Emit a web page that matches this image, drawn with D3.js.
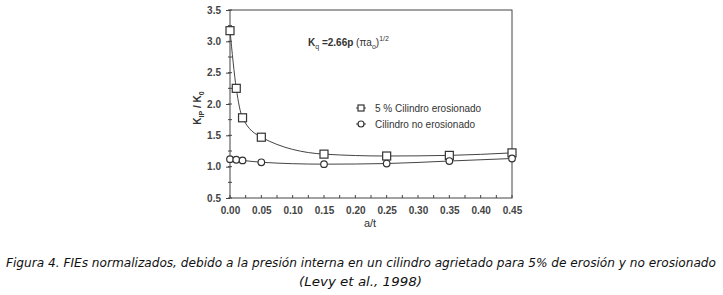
<!DOCTYPE html>
<html>
<head>
<meta charset="utf-8">
<script src="https://cdn.jsdelivr.net/npm/d3@7"></script>
<style>
body { margin: 0; background: #fff; }
svg { display: block; }
.axis text { font-family: "Liberation Sans", Arial, sans-serif; font-size: 10px; font-weight: bold; fill: #444; }
.axis path, .axis line { stroke: #444; }
</style>
</head>
<body>
<div id="root"></div>
<script>
var xValues = [0.00, 0.01, 0.02, 0.05, 0.15, 0.25, 0.35, 0.45];
var erosionado = [3.17, 2.25, 1.78, 1.47, 1.20, 1.17, 1.18, 1.22];
var noErosionado = [1.12, 1.11, 1.10, 1.07, 1.04, 1.05, 1.09, 1.13];
var xTicks = [0, 0.05, 0.10, 0.15, 0.20, 0.25, 0.30, 0.35, 0.40, 0.45];
var yTicks = [0.5, 1.0, 1.5, 2.0, 2.5, 3.0, 3.5];
var seriesNames = ["5 % Cilindro erosionado", "Cilindro no erosionado"];

var width = 723, height = 295;
var x = d3.scaleLinear().domain([0, 0.45]).range([230, 512]);
var y = d3.scaleLinear().domain([0.5, 3.5]).range([198, 10]);

var svg = d3.select("#root").append("svg")
    .attr("width", width)
    .attr("height", height);

// frame
svg.append("rect")
    .attr("x", x(0)).attr("y", y(3.5))
    .attr("width", x(0.45) - x(0)).attr("height", y(0.5) - y(3.5))
    .attr("fill", "none").attr("stroke", "#444");

// minor ticks
svg.append("g").selectAll("line")
    .data(d3.range(0, 0.451, 0.025))
    .enter().append("line")
    .attr("x1", function (d) { return x(d); })
    .attr("x2", function (d) { return x(d); })
    .attr("y1", y(0.5)).attr("y2", y(0.5) - 3)
    .attr("stroke", "#444");
svg.append("g").selectAll("line")
    .data(d3.range(0.5, 3.51, 0.25))
    .enter().append("line")
    .attr("x1", x(0) - 2).attr("x2", x(0) + 2)
    .attr("y1", function (d) { return y(d); })
    .attr("y2", function (d) { return y(d); })
    .attr("stroke", "#444");

svg.append("g")
    .attr("class", "axis")
    .attr("transform", "translate(0," + y(0.5) + ")")
    .call(d3.axisBottom(x).tickValues(xTicks).tickFormat(d3.format(".2f")).tickSize(0).tickPadding(9))
    .select(".domain").remove();

svg.append("g")
    .attr("class", "axis")
    .attr("transform", "translate(" + x(0) + ",0)")
    .call(d3.axisLeft(y).tickValues(yTicks).tickFormat(d3.format(".1f")).tickSize(4).tickPadding(5))
    .select(".domain").remove();

// axis titles
svg.append("text")
    .attr("x", 370).attr("y", 227)
    .attr("text-anchor", "middle")
    .style("font-family", "Liberation Sans, Arial, sans-serif")
    .style("font-size", "11px").style("fill", "#333")
    .text("a/t");

var yl = svg.append("text")
    .attr("transform", "translate(201,108) rotate(-90)")
    .attr("text-anchor", "middle")
    .style("font-family", "Liberation Sans, Arial, sans-serif")
    .style("font-size", "10px").style("font-weight", "bold").style("fill", "#333");
yl.append("tspan").text("K");
yl.append("tspan").attr("dy", 3).style("font-size", "7px").text("IP");
yl.append("tspan").attr("dy", -3).text(" / K");
yl.append("tspan").attr("dy", 3).style("font-size", "7px").text("0");

// formula annotation
var ann = svg.append("text")
    .attr("x", 308).attr("y", 46)
    .style("font-family", "Liberation Sans, Arial, sans-serif")
    .style("font-size", "10px").style("fill", "#333");
ann.append("tspan").style("font-weight", "bold").text("K");
ann.append("tspan").attr("dy", 3).style("font-size", "7px").text("q");
ann.append("tspan").attr("dy", -3).style("font-weight", "bold").text(" =2.66p ");
ann.append("tspan").text("(\u03c0a");
ann.append("tspan").attr("dy", 3).style("font-size", "7px").text("o");
ann.append("tspan").attr("dy", -3).text(")");
ann.append("tspan").attr("dy", -5).style("font-size", "7px").text("1/2");

var line = d3.line()
    .x(function (d) { return x(d[0]); })
    .y(function (d) { return y(d[1]); })
    .curve(d3.curveMonotoneX);

var s1 = xValues.map(function (v, i) { return [v, erosionado[i]]; });
var s2 = xValues.map(function (v, i) { return [v, noErosionado[i]]; });

svg.append("path").datum(s1).attr("d", line)
    .attr("fill", "none").attr("stroke", "#444").attr("stroke-width", 1);
svg.append("path").datum(s2).attr("d", line)
    .attr("fill", "none").attr("stroke", "#444").attr("stroke-width", 1);

svg.append("g").selectAll("rect")
    .data(s1).enter().append("rect")
    .attr("x", function (d) { return x(d[0]) - 4; })
    .attr("y", function (d) { return y(d[1]) - 4; })
    .attr("width", 8).attr("height", 8)
    .attr("fill", "#fff").attr("stroke", "#333").attr("stroke-width", 1.2);

svg.append("g").selectAll("circle")
    .data(s2).enter().append("circle")
    .attr("cx", function (d) { return x(d[0]); })
    .attr("cy", function (d) { return y(d[1]); })
    .attr("r", 3.3)
    .attr("fill", "#fff").attr("stroke", "#333").attr("stroke-width", 1.2);

// legend
var lg = svg.append("g")
    .style("font-family", "Liberation Sans, Arial, sans-serif")
    .style("font-size", "10px").style("fill", "#333");
lg.append("line").attr("x1", 356).attr("x2", 366).attr("y1", 108).attr("y2", 108).attr("stroke", "#444");
lg.append("rect").attr("x", 358).attr("y", 105).attr("width", 6).attr("height", 6)
    .attr("fill", "#fff").attr("stroke", "#333").attr("stroke-width", 1.2);
lg.append("text").attr("x", 375).attr("y", 112).text(seriesNames[0]);
lg.append("line").attr("x1", 356).attr("x2", 366).attr("y1", 124).attr("y2", 124).attr("stroke", "#444");
lg.append("circle").attr("cx", 361).attr("cy", 124).attr("r", 3)
    .attr("fill", "#fff").attr("stroke", "#333").attr("stroke-width", 1.2);
lg.append("text").attr("x", 375).attr("y", 128).text(seriesNames[1]);

// caption
var cap = svg.append("g")
    .style("font-family", "'Liberation Sans Narrow', 'DejaVu Sans Condensed', sans-serif")
    .style("font-style", "italic").style("font-size", "13px").style("fill", "#111");
cap.append("text").attr("x", 6).attr("y", 267)
    .attr("textLength", 710).attr("lengthAdjust", "spacingAndGlyphs")
    .text("Figura 4.  FIEs normalizados, debido a la presión interna en un cilindro agrietado para 5% de erosión y no erosionado");
cap.append("text").attr("x", 299).attr("y", 286)
    .attr("textLength", 123).attr("lengthAdjust", "spacingAndGlyphs")
    .text("(Levy et al., 1998)");
</script>
</body>
</html>
